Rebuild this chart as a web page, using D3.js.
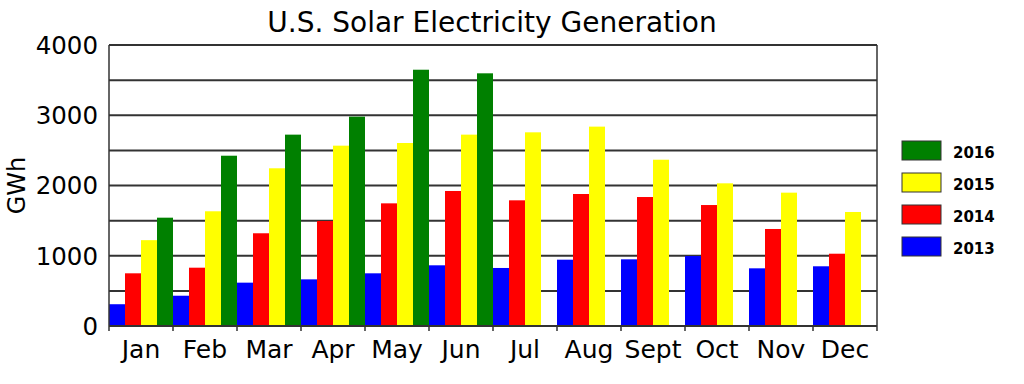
<!DOCTYPE html>
<html>
<head>
<meta charset="utf-8">
<script src="https://cdn.jsdelivr.net/npm/d3@7"></script>
<style>
  html, body { margin: 0; padding: 0; background: #fff; }
  svg { display: block; font-family: "DejaVu Sans", sans-serif; }
</style>
</head>
<body>
<svg id="chart" width="1024" height="384"></svg>
<script>
const months = ["Jan","Feb","Mar","Apr","May","Jun","Jul","Aug","Sept","Oct","Nov","Dec"];
const years = ["2013","2014","2015","2016"];
const values2013 = [310, 431, 617, 664, 750, 864, 826, 944, 949, 996, 821, 850];
const values2014 = [750, 830, 1320, 1495, 1746, 1922, 1789, 1879, 1836, 1722, 1381, 1029];
const values2015 = [1222, 1633, 2245, 2567, 2605, 2724, 2757, 2838, 2367, 2031, 1898, 1623];
const values2016 = [1542, 2424, 2724, 2980, 3648, 3597, null, null, null, null, null, null];
const yTicks = [0, 1000, 2000, 3000, 4000];
const gridValues = [500, 1000, 1500, 2000, 2500, 3000, 3500, 4000];
const colors = { "2013": "#0000ff", "2014": "#ff0000", "2015": "#ffff00", "2016": "#008000" };
const seriesValues = { "2013": values2013, "2014": values2014, "2015": values2015, "2016": values2016 };

const svg = d3.select("#chart");
const L = 109, R = 877, T = 45, B = 326;

const x = d3.scaleBand().domain(months).range([L, R]).padding(0);
const xi = d3.scaleBand().domain(years).range([0, x.bandwidth()]).padding(0);
const y = d3.scaleLinear().domain([0, 4000]).range([B, T]);

const lineColor = "#333";

// gridlines
svg.append("g").selectAll("line").data(gridValues).join("line")
  .attr("x1", L).attr("x2", R)
  .attr("y1", d => y(d)).attr("y2", d => y(d))
  .attr("stroke", lineColor).attr("stroke-width", 2);

// bars
const data = [];
months.forEach((m, i) => {
  years.forEach(yr => {
    const v = seriesValues[yr][i];
    if (v != null) data.push({ m, yr, v });
  });
});
svg.append("g").selectAll("rect").data(data).join("rect")
  .attr("x", d => x(d.m) + xi(d.yr))
  .attr("width", xi.bandwidth())
  .attr("y", d => y(d.v))
  .attr("height", d => y(0) - y(d.v))
  .attr("fill", d => colors[d.yr]);

// frame
svg.append("line").attr("x1", L).attr("x2", L).attr("y1", T).attr("y2", B)
  .attr("stroke", lineColor).attr("stroke-width", 1.5);
svg.append("line").attr("x1", R).attr("x2", R).attr("y1", T).attr("y2", B)
  .attr("stroke", lineColor).attr("stroke-width", 1.5);
svg.append("line").attr("x1", L).attr("x2", R).attr("y1", B).attr("y2", B)
  .attr("stroke", lineColor).attr("stroke-width", 2);

// x ticks at band boundaries
const bounds = months.map(m => x(m)).concat([R]);
svg.append("g").selectAll("line").data(bounds).join("line")
  .attr("x1", d => d).attr("x2", d => d)
  .attr("y1", B).attr("y2", B + 5)
  .attr("stroke", lineColor).attr("stroke-width", 1.5);

// x labels
svg.append("g").selectAll("text").data(months).join("text")
  .attr("x", d => x(d) + x.bandwidth() / 2)
  .attr("y", 358)
  .attr("text-anchor", "middle")
  .attr("font-size", 25)
  .attr("fill", "#000")
  .text(d => d);

// y labels
svg.append("g").selectAll("text").data(yTicks).join("text")
  .attr("x", 98)
  .attr("y", d => y(d))
  .attr("dy", "0.36em")
  .attr("text-anchor", "end")
  .attr("font-size", 24.5)
  .attr("fill", "#000")
  .text(d => d);

// y title
svg.append("text")
  .attr("transform", `translate(25, ${(T + B) / 2}) rotate(-90)`)
  .attr("text-anchor", "middle")
  .attr("font-size", 24)
  .attr("fill", "#000")
  .text("GWh");

// title
svg.append("text")
  .attr("x", 492).attr("y", 32)
  .attr("text-anchor", "middle")
  .attr("font-size", 28)
  .attr("fill", "#000")
  .text("U.S. Solar Electricity Generation");

// legend
const legendYears = ["2016", "2015", "2014", "2013"];
const lg = svg.append("g").selectAll("g").data(legendYears).join("g")
  .attr("transform", (d, i) => `translate(902, ${141 + i * 32})`);
lg.append("rect").attr("width", 39).attr("height", 19)
  .attr("fill", d => colors[d]).attr("stroke", "#333").attr("stroke-width", 1);
lg.append("text").attr("x", 51).attr("y", 16.5)
  .attr("font-size", 15).attr("font-weight", "bold").attr("fill", "#000")
  .text(d => d);
</script>
</body>
</html>
